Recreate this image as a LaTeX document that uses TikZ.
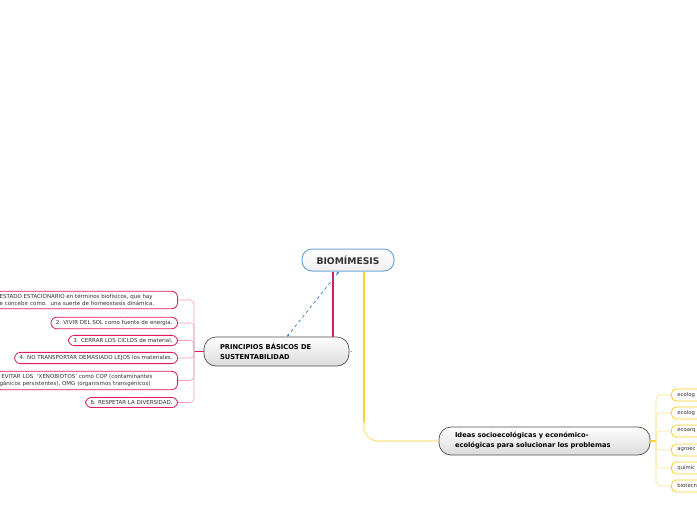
\documentclass[tikz,border=0pt]{standalone}
\usepackage{fontspec}
\setmainfont{DejaVu Sans}
\usetikzlibrary{arrows.meta}
\definecolor{rosa}{HTML}{E2195F}
\definecolor{rosaclaro}{HTML}{F29BBB}
\definecolor{amarillo}{HTML}{F8D12A}
\definecolor{amarilloclaro}{HTML}{FBE48E}
\definecolor{azulborde}{HTML}{6FA8DA}
\definecolor{azul}{HTML}{2E7FD9}
\definecolor{grisborde}{HTML}{505050}
\definecolor{texto}{HTML}{333333}

\tikzset{
  raiz/.style={draw=azulborde, line width=1pt, rounded corners=10pt, top color=white, bottom color=gray!12,
    minimum width=92pt, minimum height=22pt, font=\bfseries\fontsize{9.2}{10}\selectfont, text=texto},
  tema/.style={draw=grisborde, line width=0.7pt, rounded corners=12pt, top color=white, bottom color=gray!28,
    align=left, inner xsep=16pt, font=\bfseries\fontsize{6.7}{10}\selectfont, text=black},
  hijarosa/.style={draw=rosa, line width=0.8pt, fill=white, rounded corners=6pt, anchor=east,
    inner xsep=5pt, inner ysep=3pt, font=\fontsize{5.5}{7}\selectfont, text=texto},
  hijaamarilla/.style={draw=amarillo, line width=0.8pt, fill=white, rounded corners=5pt, anchor=west,
    minimum height=12pt, text width=50pt, align=left, inner xsep=6pt, font=\fontsize{5.3}{6}\selectfont, text=texto},
  ramarosa/.style={draw=rosaclaro, line width=0.6pt, rounded corners=4pt},
  ramaamarilla/.style={draw=amarilloclaro, line width=0.6pt, rounded corners=4pt},
}

\begin{document}
\begin{tikzpicture}[x=1pt, y=-1pt]
\useasboundingbox (0,0) rectangle (697,520);
\node[raiz] (bio) at (348,260) {BIOMÍMESIS};
\node[tema, text width=113pt, minimum height=29pt] (principios) at (276.5,351.5) {PRINCIPIOS BÁSICOS DE\\SUSTENTABILIDAD};
\node[tema, text width=179pt, minimum height=28pt] (ideas) at (544.5,441) {Ideas socioecológicas y económico-\\ecológicas para solucionar los problemas};
% principios
\node[hijarosa, text width=173pt, align=left] (p1) at (178,300) {ESTADO ESTACIONARIO en términos biofísicos, que hay\\e concebir como.\ \ una suerte de homeostasis dinámica.};
\node[hijarosa] (p2) at (178,323) {2. VIVIR DEL SOL como fuente de energía.};
\node[hijarosa] (p3) at (178,340.5) {3. CERRAR LOS CICLOS de material.};
\node[hijarosa] (p4) at (178,358) {4. NO TRANSPORTAR DEMASIADO LEJOS los materiales.};
\node[hijarosa, text width=173pt, align=left] (p5) at (178,380.5) {\ EVITAR LOS\ \ ‘XENOBIOTOS’ como COP (contaminantes\\gánicos persistentes), OMG (organismos transgénicos)};
\node[hijarosa] (p6) at (178,402.5) {6. RESPETAR LA DIVERSIDAD.};
% ideas
\node[hijaamarilla] (i1) at (671,395) {ecolog};
\node[hijaamarilla] (i2) at (671,413) {ecolog};
\node[hijaamarilla] (i3) at (671,431) {ecoarq};
\node[hijaamarilla] (i4) at (671,450) {agroec};
\node[hijaamarilla] (i5) at (671,468) {químic};
\node[hijaamarilla] (i6) at (671,486) {biotecn};
\coordinate (lb) at (194,351.5);
\coordinate (rb) at (656,441);
\draw[rosa, line width=2pt] ([xshift=-15pt]bio.south) -- ([xshift=-15pt]bio.south |- principios.north);
\draw[amarilloclaro, line width=1.2pt, rounded corners=14pt] ([xshift=16pt]bio.south |- 0,410) |- (ideas.west);
\draw[amarillo, line width=1.6pt] ([xshift=16pt]bio.south) -- ([xshift=16pt]bio.south |- 0,422);
\draw[azul, line width=0.7pt, dashed, {Stealth[length=3pt]}-{Stealth[length=3pt]}] ([xshift=-9pt]bio.south) -- ([xshift=10.5pt]principios.north);
\draw[rosa, line width=1.5pt] (principios.west) -- (lb);
\draw[rosaclaro, line width=1.5pt] (principios.east) -- ++(3,0);
\foreach \h in {p1,p2,p3,p4,p5,p6}
  \draw[ramarosa] (lb) |- (\h.east);
\draw[amarillo, line width=1.5pt] (ideas.east) -- (rb);
\foreach \h in {i1,i2,i3,i4,i5,i6}
  \draw[ramaamarilla] (rb) |- (\h.west);
\end{tikzpicture}
\end{document}
